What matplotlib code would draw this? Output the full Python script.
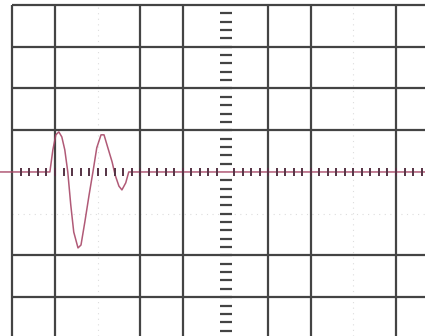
import numpy as np
import matplotlib
matplotlib.use("Agg")
import matplotlib.pyplot as plt

# screen layout in divisions (centre of screen = 0, 0)
grid_x = [-5, -4, -2, -1, 1, 2, 4]
grid_y = [4, 3, 2, 1, -2, -3]
faint_x = [-3, 3]
faint_y = [-1]

# captured pulse, x in divisions, y in divisions
trace_x = [-5.3, -4.12, -4.05, -3.98, -3.91, -3.84, -3.77, -3.70, -3.63, -3.56,
           -3.46, -3.39, -3.30, -3.20, -3.11, -3.02, -2.92, -2.85, -2.76, -2.66,
           -2.59, -2.50, -2.43, -2.34, -2.27, 4.7]
trace_y = [0, 0, 0.53, 0.89, 0.96, 0.84, 0.53, 0, -0.79, -1.44,
           -1.82, -1.75, -1.20, -0.55, 0, 0.58, 0.89, 0.89, 0.58, 0.24,
           -0.07, -0.34, -0.43, -0.26, 0, 0]

x_lo, x_hi = -5.29, 4.68
y_lo, y_hi = -3.93, 4.12

fig = plt.figure(figsize=(4.25, 3.36), dpi=100)
ax = fig.add_axes([0, 0, 1, 1])
ax.set_xlim(x_lo, x_hi)
ax.set_ylim(y_lo, y_hi)
ax.axis("off")

ax.vlines(faint_x, y_lo, 4, color="#dddddd", lw=0.8, ls=(0, (1, 4)))
ax.hlines(faint_y, -5, x_hi, color="#dddddd", lw=0.8, ls=(0, (1, 4)))

ax.vlines(grid_x, y_lo, 4, color="#444444", lw=1.6)
ax.hlines(grid_y, -5, x_hi, color="#444444", lw=1.6)

# trace
ax.plot(trace_x, trace_y, color="#a84868", lw=1.1, alpha=0.9)

# centre graticule marks
tx = np.arange(-4.8, 4.7, 0.2)
tx = tx[np.abs(tx) > 0.05]
ax.plot(tx, np.zeros_like(tx), ls="none", marker="|", ms=6, mew=1.4, color="#553344")
ty = np.arange(-3.8, 4.0, 0.2)
ty = ty[np.abs(ty) > 0.05]
ax.plot(np.zeros_like(ty), ty, ls="none", marker="_", ms=9, mew=1.6, color="#444444")

fig.savefig("out.png", dpi=100)
